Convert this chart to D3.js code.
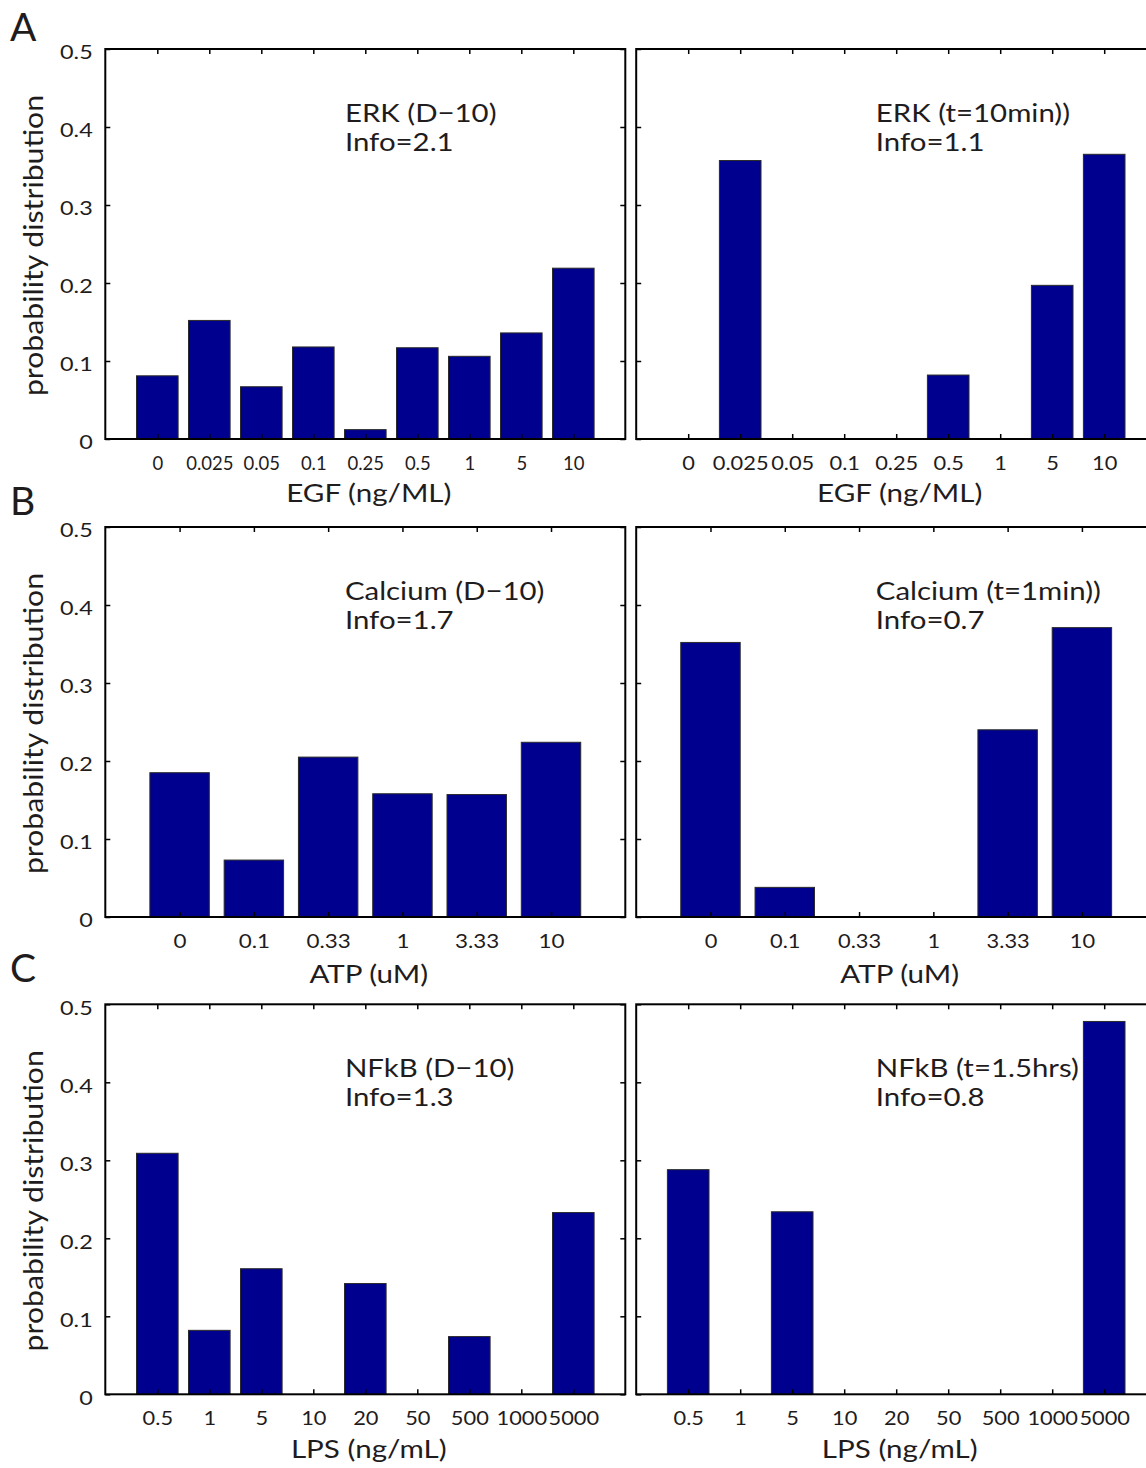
<!DOCTYPE html>
<html>
<head>
<meta charset="utf-8">
<script src="https://cdn.jsdelivr.net/npm/d3@7"></script>
<style>
  html, body { margin: 0; padding: 0; background: #fff; }
  svg text { font-family: Lato, "Open Sans", sans-serif; fill: #1f1c1d; }
</style>
</head>
<body>
<svg id="fig" width="1146" height="1468"></svg>
<script>
// Stimulus doses (x categories)
const egfDoses = ["0", "0.025", "0.05", "0.1", "0.25", "0.5", "1", "5", "10"];
const atpDoses = ["0", "0.1", "0.33", "1", "3.33", "10"];
const lpsDoses = ["0.5", "1", "5", "10", "20", "50", "500", "1000", "5000"];

// Probability distribution over doses for each readout
const erkD10   = [0.081, 0.152, 0.067, 0.118, 0.012, 0.117, 0.106, 0.136, 0.219];
const erkT10   = [0, 0.357, 0, 0, 0, 0.082, 0, 0.197, 0.365];
const caD10    = [0.185, 0.073, 0.205, 0.158, 0.157, 0.224];
const caT1     = [0.352, 0.038, 0, 0, 0.240, 0.371];
const nfkbD10  = [0.309, 0.082, 0.161, 0, 0.142, 0, 0.074, 0, 0.233];
const nfkbT15  = [0.288, 0, 0.234, 0, 0, 0, 0, 0, 0.478];

// Panel titles and x-axis titles
const panelLetters = ["A", "B", "C"];
const xTitles = ["EGF (ng/ML)", "ATP (uM)", "LPS (ng/mL)"];
const titlesLeft  = ["ERK (D\u221210)", "Calcium (D\u221210)", "NFkB (D\u221210)"];
const titlesRight = ["ERK (t=10min))", "Calcium (t=1min))", "NFkB (t=1.5hrs)"];
const infoLeft  = ["Info=2.1", "Info=1.7", "Info=1.3"];
const infoRight = ["Info=1.1", "Info=0.7", "Info=0.8"];

const yTicks = [0, 0.1, 0.2, 0.3, 0.4, 0.5];
const yLabel = "probability distribution";

// ---- layout ----
const FRAME_W = 520, FRAME_H = 390;
const colX = [105.3, 636.2];
const rowY = [49, 527, 1004.3];
const letterBaseline = [41, 515, 982];
const xTitleGap = [62.7, 66, 63.5];
const BAR_FILL = "#00008f";
const TICK_FONT = 19.5;

const svg = d3.select("#fig");

const rows = [
  { cats: egfDoses, left: erkD10,  right: erkT10,  stretchL: 0.95 },
  { cats: atpDoses, left: caD10,   right: caT1,    stretchL: 1.15 },
  { cats: lpsDoses, left: nfkbD10, right: nfkbT15, stretchL: 1.12 }
];

function drawPanel(r, c, cats, values, title, info, tickStretch) {
  const x0 = colX[c], y0 = rowY[r];
  const n = cats.length;
  const x = d3.scaleLinear().domain([0, n + 1]).range([x0, x0 + FRAME_W]);
  const y = d3.scaleLinear().domain([0, 0.5]).range([y0 + FRAME_H, y0]);
  const g = svg.append("g");

  // bars (width 0.8 of category spacing)
  g.append("g").selectAll("rect")
    .data(values.map((v, i) => ({ v, i })).filter(d => d.v > 0))
    .join("rect")
      .attr("x", d => x(d.i + 1 - 0.4))
      .attr("width", d => x(d.i + 1 + 0.4) - x(d.i + 1 - 0.4))
      .attr("y", d => y(d.v))
      .attr("height", d => y(0) - y(d.v))
      .attr("fill", BAR_FILL)
      .attr("stroke", "#2a2a2a")
      .attr("stroke-width", 1);

  const idx = d3.range(1, n + 1);

  // bottom axis with dose labels, ticks pointing inward
  const gx = g.append("g")
    .attr("transform", `translate(0,${y0 + FRAME_H})`)
    .call(d3.axisBottom(x).tickValues(idx).tickSize(-5).tickFormat(i => cats[i - 1]));
  gx.select(".domain").remove();
  gx.attr("font-size", TICK_FONT).attr("font-family", null);
  gx.selectAll("text")
    .attr("y", 0).attr("dy", 0)
    .attr("transform", `translate(0,31) scale(${tickStretch},1)`);

  // mirrored top ticks
  const gt = g.append("g")
    .attr("transform", `translate(0,${y0})`)
    .call(d3.axisTop(x).tickValues(idx).tickSize(-5).tickFormat(""));
  gt.select(".domain").remove();

  // left axis (labels only on the left column)
  const gy = g.append("g")
    .attr("transform", `translate(${x0},0)`)
    .call(d3.axisLeft(y).tickValues(yTicks).tickSize(-5)
      .tickFormat(c === 0 ? d3.format("~g") : ""));
  gy.select(".domain").remove();
  gy.attr("font-size", TICK_FONT).attr("font-family", null);
  const ys = 1.2;
  gy.selectAll("text")
    .attr("x", -12.6 / ys).attr("dy", "0.5em")
    .attr("transform", `scale(${ys},1)`);

  // mirrored right ticks
  const gr = g.append("g")
    .attr("transform", `translate(${x0 + FRAME_W},0)`)
    .call(d3.axisRight(y).tickValues(yTicks).tickSize(-5).tickFormat(""));
  gr.select(".domain").remove();

  g.selectAll(".tick line").attr("stroke", "#000").attr("stroke-width", 1.5);

  // box
  g.append("rect")
    .attr("x", x0).attr("y", y0)
    .attr("width", FRAME_W).attr("height", FRAME_H)
    .attr("fill", "none").attr("stroke", "#000").attr("stroke-width", 2);

  // in-panel annotation
  const tx = x0 + 239.6, ty = y0 + 72.5;
  g.append("text")
    .attr("transform", `translate(${tx},${ty}) scale(1.22,1)`)
    .attr("font-size", 24.1)
    .text(title);
  g.append("text")
    .attr("transform", `translate(${tx},${ty + 29.5}) scale(1.22,1)`)
    .attr("font-size", 24.1)
    .text(info);

  // x-axis title
  g.append("text")
    .attr("transform", `translate(${x0 + 263.5},${y0 + FRAME_H + xTitleGap[r]}) scale(1.16,1)`)
    .attr("text-anchor", "middle")
    .attr("font-size", 25.5)
    .text(xTitles[r]);

  // y-axis title (left column only)
  if (c === 0) {
    g.append("text")
      .attr("transform", `translate(43.3,${y0 + FRAME_H / 2 + 1.5}) rotate(-90) scale(1.12,1)`)
      .attr("text-anchor", "middle")
      .attr("font-size", 27)
      .text(yLabel);
  }
}

rows.forEach((row, r) => {
  drawPanel(r, 0, row.cats, row.left, titlesLeft[r], infoLeft[r], row.stretchL);
  drawPanel(r, 1, row.cats, row.right, titlesRight[r], infoRight[r], 1.12);
  svg.append("text")
    .attr("x", 10).attr("y", letterBaseline[r])
    .attr("font-size", 39)
    .text(panelLetters[r]);
});
</script>
</body>
</html>
